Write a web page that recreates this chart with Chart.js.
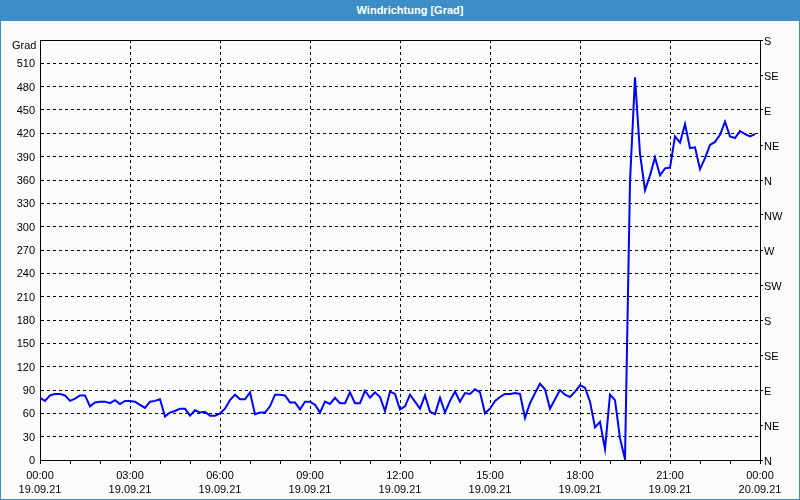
<!DOCTYPE html>
<html>
<head>
<meta charset="utf-8">
<script src="https://cdn.jsdelivr.net/npm/chart.js@4"></script>
<style>
  html, body { margin: 0; padding: 0; background: #fafcfa; }
  #wrap { position: relative; width: 800px; height: 500px; overflow: hidden; background: #fafcfa; }
  #hdr { position: absolute; left: 0; top: 0; width: 800px; height: 21px; background: #3c8fc6;
         color: #fff; font: bold 11px "Liberation Sans", Arial, sans-serif; line-height: 21px;
         text-align: center; box-sizing: border-box; padding-left: 20px; z-index: 2; }
  #frame { position: absolute; left: 0; top: 0; width: 800px; height: 500px; box-sizing: border-box;
           border: 1px solid #3c8fc6; pointer-events: none; z-index: 3; }
  #unit { position: absolute; left: 12px; top: 39px; font: 11px "Liberation Sans", Arial, sans-serif;
          color: #000; z-index: 2; }
  canvas { position: absolute; left: 0; top: 0; }
</style>
</head>
<body>
<div id="wrap">
  <div id="hdr">Windrichtung [Grad]</div>
  <div id="unit">Grad</div>
  <canvas id="c" width="800" height="500"></canvas>
  <div id="frame"></div>
</div>
<script>
// ---- data ----
const chartTitle = "Windrichtung [Grad]";
const sampleStepMinutes = 10; // one reading every 10 minutes, starting 19.09.21 00:00
const windDirection = [
  80, 76, 83, 85, 85, 83, 76, 79, 83, 83,
  69, 74, 75, 75, 73, 77, 72, 76, 76, 75,
  71, 67, 75, 76, 78, 56, 61, 63, 66, 66,
  57, 64, 61, 62, 57, 57, 60, 66, 77, 84,
  78, 78, 87, 59, 61, 61, 69, 84, 84, 83,
  74, 74, 65, 75, 75, 71, 61, 75, 72, 80,
  73, 73, 87, 73, 73, 89, 80, 87, 81, 63,
  88, 85, 65, 69, 84, 75, 66, 83, 62, 59,
  80, 61, 76, 88, 75, 86, 85, 91, 87, 60,
  66, 76, 81, 85, 85, 86, 85, 54, 73, 86,
  98, 91, 66, 78, 90, 84, 81, 88, 96, 93,
  75, 42, 49, 14, 84, 77, 28, 1, 358, 492,
  394, 347, 366, 389, 366, 375, 376, 416, 408, 432,
  401, 402, 374, 388, 405, 409, 418, 435, 416, 414,
  423, 419, 416, 419
];
const timeLabels = ["00:00", "03:00", "06:00", "09:00", "12:00", "15:00", "18:00", "21:00", "00:00"];
const dateLabels = ["19.09.21", "19.09.21", "19.09.21", "19.09.21", "19.09.21", "19.09.21", "19.09.21", "19.09.21", "20.09.21"];
const degreeTicks = [0, 30, 60, 90, 120, 150, 180, 210, 240, 270, 300, 330, 360, 390, 420, 450, 480, 510];
const compassLabels = ["N", "NE", "E", "SE", "S", "SW", "W", "NW", "N", "NE", "E", "SE", "S"];

// ---- chart ----
const points = windDirection.map((v, i) => ({ x: i * sampleStepMinutes, y: v }));
const FONT = { family: "'Liberation Sans', Arial, sans-serif", size: 11 };

new Chart(document.getElementById('c'), {
  type: 'line',
  data: {
    datasets: [{
      label: chartTitle,
      data: points,
      borderColor: '#0000ff',
      borderWidth: 2,
      pointRadius: 0,
      tension: 0,
      fill: false,
      yAxisID: 'y'
    }]
  },
  options: {
    responsive: false,
    animation: false,
    devicePixelRatio: 1,
    layout: { padding: { top: 40, left: 0, right: 0, bottom: 0 } },
    plugins: { legend: { display: false }, tooltip: { enabled: false }, title: { display: false } },
    scales: {
      x: {
        type: 'linear',
        min: 0, max: 1440,
        afterFit: s => { s.height = 40; },
        ticks: {
          stepSize: 60, autoSkip: false, maxRotation: 0, minRotation: 0,
          color: '#000', font: { ...FONT, lineHeight: 1.36 }, padding: 4,
          callback: v => (v % 180 === 0 ? [timeLabels[v / 180], dateLabels[v / 180]] : '')
        },
        grid: {
          drawOnChartArea: true, drawTicks: true, tickLength: 4,
          color: c => (c.tick && c.tick.value % 180 === 0 ? '#000' : 'rgba(0,0,0,0)'),
          tickColor: '#000', tickBorderDash: [], lineWidth: 1
        },
        border: { display: true, color: '#000', width: 1, dash: [3, 3] }
      },
      y: {
        type: 'linear', position: 'left',
        min: 0, max: 540,
        afterFit: s => { s.width = 40; },
        afterBuildTicks: s => { s.ticks = degreeTicks.concat([540]).map(v => ({ value: v })); },
        ticks: {
          color: '#000', font: FONT, padding: 5, labelOffset: 1,
          callback: v => (degreeTicks.includes(v) ? String(v) : '')
        },
        grid: { drawTicks: false, color: '#000', lineWidth: 1 },
        border: { display: true, color: '#000', width: 1,
                  dash: c => (c.tick && c.tick.value === 540 ? [] : [3, 3]) }
      },
      y2: {
        type: 'linear', position: 'right',
        min: 0, max: 540,
        afterFit: s => { s.width = 40; },
        afterBuildTicks: s => { s.ticks = compassLabels.map((_, i) => ({ value: i * 45 })); },
        ticks: {
          color: '#000', font: FONT, padding: 1, labelOffset: 2,
          callback: (v) => compassLabels[Math.round(v / 45)]
        },
        grid: { drawOnChartArea: false, drawTicks: true, tickLength: 3, color: '#000', tickColor: '#000' },
        border: { display: true, color: '#000', width: 1 }
      }
    }
  }
});
</script>
</body>
</html>
